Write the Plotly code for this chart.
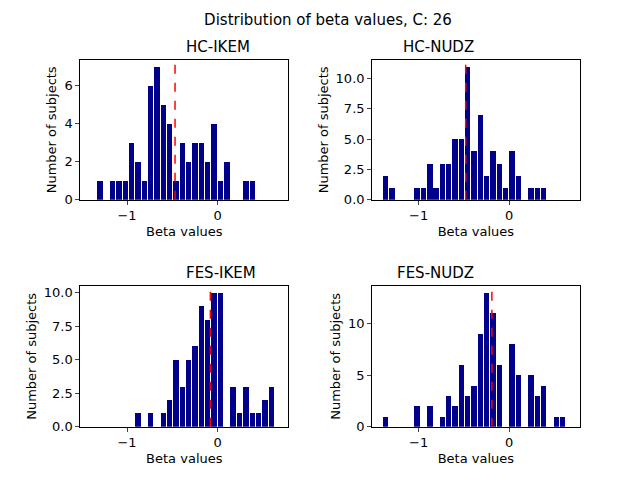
import plotly.graph_objects as go
from plotly.subplots import make_subplots

# shared bin layout: 30 bins of width 0.07 starting at -1.4
bin_start = -1.4
bin_width = 0.07
centers = [round(bin_start + bin_width * (k + 0.5), 4) for k in range(30)]

titles = ["HC-IKEM", "HC-NUDZ", "FES-IKEM", "FES-NUDZ"]
hc_ikem = [0,1,0,1,1,1,3,2,1,6,7,5,4,1,3,2,3,3,2,4,1,2,0,0,1,1,0,0,0,0]
hc_nudz = [2,1,0,0,0,1,1,3,1,3,3,5,5,11,4,7,2,4,3,1,4,2,0,1,1,1,0,0,0,0]
fes_ikem = [0,0,0,0,0,0,0,1,0,1,0,1,2,5,3,5,6,9,8,10,10,0,3,1,3,1,1,2,3,0]
fes_nudz = [1,0,0,0,0,2,0,2,0,1,3,2,6,3,4,9,13,11,6,0,8,5,0,5,3,4,0,1,1,0]
means = [-0.47, -0.48, -0.08, -0.19]
counts = [hc_ikem, hc_nudz, fes_ikem, fes_nudz]

fig = make_subplots(rows=2, cols=2)
font = "DejaVu Sans"
xdom = [[0.113, 0.438], [0.569, 0.893]]
ydom = [[0.595, 0.892], [0.113, 0.412]]

for i, (name, c, m) in enumerate(zip(titles, counts, means)):
    r, col = i // 2 + 1, i % 2 + 1
    fig.add_trace(go.Bar(x=centers, y=c, width=bin_width * 0.85,
                         marker=dict(color="#00008b", line=dict(width=0)),
                         showlegend=False), row=r, col=col)
    ymax = max(c) * 1.05
    fig.add_shape(type="line", x0=m, x1=m, y0=0, y1=1, yref="y domain" if i == 0 else f"y{i+1} domain",
                  xref="x" if i == 0 else f"x{i+1}", layer="above",
                  line=dict(color="red", width=1.5, dash="dash"))
    fig.update_xaxes(range=[-1.515, 0.78], domain=xdom[col - 1],
                     tickvals=[-1, 0], ticktext=["\u22121", "0"],
                     title=dict(text="Beta values", standoff=4),
                     row=r, col=col)
    fig.update_yaxes(range=[0, ymax], domain=ydom[r - 1],
                     title=dict(text="Number of subjects", standoff=4),
                     row=r, col=col)
    xd = xdom[col - 1]
    fig.add_annotation(x=(xd[0] + xd[1]) / 2, y=ydom[r - 1][1], xref="paper", yref="paper",
                       text=name, showarrow=False, yanchor="bottom", yshift=2,
                       font=dict(size=15, color="black", family=font))

fig.update_yaxes(tickformat=".1f", row=1, col=2)
fig.update_yaxes(tickformat=".1f", row=2, col=1)
fig.update_yaxes(dtick=2, row=1, col=1)
fig.update_yaxes(dtick=5, row=2, col=2)
fig.update_yaxes(dtick=2.5, row=1, col=2)
fig.update_yaxes(dtick=2.5, row=2, col=1)

fig.update_xaxes(showline=True, mirror=True, linecolor="black", linewidth=1,
                 ticks="outside", ticklen=4, showgrid=False, zeroline=False,
                 title_font=dict(size=13))
fig.update_yaxes(showline=True, mirror=True, linecolor="black", linewidth=1,
                 ticks="outside", ticklen=4, showgrid=False, zeroline=False,
                 title_font=dict(size=13))

fig.update_layout(
    width=640, height=480,
    margin=dict(l=0, r=0, t=0, b=0),
    plot_bgcolor="white", paper_bgcolor="white",
    font=dict(family=font, size=13, color="black"),
    bargap=0,
    title=dict(text="Distribution of beta values, C: 26", x=0.5, xanchor="center",
               y=0.975, yanchor="middle", font=dict(size=15)),
)

fig.write_html("out.html")
